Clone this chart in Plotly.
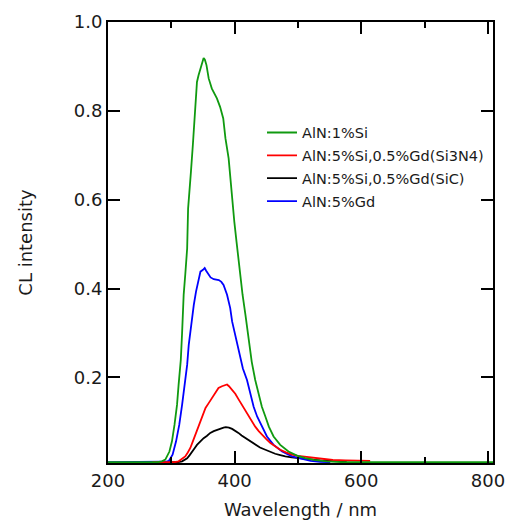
import plotly.graph_objects as go

# AlN:1%Si (green)
wl_si1 = [200, 278, 285, 290.5, 297, 301, 305, 309, 311.5, 315, 317, 319.5, 322, 325, 326.5, 329, 331, 334,
          336.5, 338, 340.5, 343, 346, 349, 351, 353, 355.5, 359, 364, 372, 377, 382, 385.5, 390.5, 393, 396,
          399.5, 403, 405.5, 409, 412.5, 417, 421, 423, 427, 432.5, 438, 443, 448.5, 454, 461.5, 472, 485,
          498.5, 511.5, 525, 545, 570, 808]
cl_si1 = [0.009, 0.009, 0.011, 0.015, 0.033, 0.056, 0.093, 0.138, 0.183, 0.24, 0.30, 0.386, 0.431, 0.49, 0.58,
          0.618, 0.663, 0.723, 0.775, 0.828, 0.865, 0.88, 0.895, 0.91, 0.919, 0.915, 0.903, 0.873, 0.850, 0.828,
          0.809, 0.783, 0.738, 0.693, 0.648, 0.603, 0.550, 0.505, 0.47, 0.431, 0.386, 0.341, 0.296, 0.273, 0.235,
          0.194, 0.165, 0.134, 0.112, 0.089, 0.067, 0.048, 0.033, 0.024, 0.018, 0.014, 0.011, 0.009, 0.009]

# AlN:5%Si,0.5%Gd(Si3N4) (red)
wl_si3n4 = [270, 305, 311.5, 317, 322, 326, 330, 334, 338, 342, 346, 350, 354, 359, 364, 369, 374.5, 380, 385,
            388, 391, 396, 401, 406, 411.5, 417, 422, 427, 432.5, 438, 443, 450, 456.5, 464, 472, 481, 490.5,
            500, 511.5, 525, 540, 555, 575, 598, 614]
cl_si3n4 = [0.009, 0.009, 0.011, 0.016, 0.022, 0.031, 0.041, 0.056, 0.071, 0.086, 0.101, 0.117, 0.131, 0.142,
            0.153, 0.165, 0.176, 0.180, 0.183, 0.184, 0.180, 0.172, 0.163, 0.151, 0.138, 0.125, 0.112, 0.100,
            0.089, 0.079, 0.071, 0.061, 0.052, 0.044, 0.037, 0.031, 0.026, 0.023, 0.021, 0.018, 0.015, 0.014,
            0.013, 0.013, 0.012]

# AlN:5%Si,0.5%Gd(SiC) (black)
wl_sic = [280, 310, 317, 321, 325, 329, 332.5, 336.5, 340.5, 346, 351, 356, 361.5, 367, 372, 377, 382.5, 386,
          391, 396, 401, 406, 411, 417, 424, 432.5, 440, 448.5, 456, 464, 472, 480, 490, 501, 515, 535, 555, 577]
cl_sic = [0.009, 0.009, 0.011, 0.014, 0.018, 0.025, 0.033, 0.040, 0.048, 0.056, 0.063, 0.068, 0.075, 0.079,
          0.082, 0.085, 0.087, 0.088, 0.087, 0.084, 0.080, 0.075, 0.069, 0.063, 0.056, 0.048, 0.042, 0.037,
          0.032, 0.028, 0.025, 0.022, 0.020, 0.018, 0.015, 0.013, 0.012, 0.011]

# AlN:5%Gd (blue)
wl_gd = [200, 285, 291, 296, 302, 307.5, 312.5, 317, 321, 325, 327.5, 330, 332.5, 335.5, 339, 343, 346, 350,
         352.7, 355, 359, 362, 367, 375, 379, 382.5, 388, 393, 396, 401, 404, 408, 413, 419.5, 425, 430, 435.5,
         443, 451, 461.5, 475, 490.5, 509, 520, 535, 551]
cl_gd = [0.009, 0.009, 0.010, 0.012, 0.026, 0.056, 0.093, 0.138, 0.183, 0.228, 0.273, 0.303, 0.333, 0.363,
         0.393, 0.415, 0.438, 0.442, 0.446, 0.440, 0.431, 0.425, 0.421, 0.419, 0.415, 0.408, 0.386, 0.356, 0.326,
         0.296, 0.273, 0.250, 0.220, 0.194, 0.165, 0.134, 0.112, 0.089, 0.067, 0.048, 0.033, 0.022, 0.016,
         0.012, 0.010, 0.009]

x_ticks = [200, 400, 600, 800]
y_ticks = [0.2, 0.4, 0.6, 0.8, 1.0]
y_tick_text = ["0.2", "0.4", "0.6", "0.8", "1.0"]

series = [
    ("AlN:5%Si,0.5%Gd(SiC)", wl_sic, cl_sic, "#000000", 3),
    ("AlN:5%Gd", wl_gd, cl_gd, "#0000ff", 4),
    ("AlN:5%Si,0.5%Gd(Si3N4)", wl_si3n4, cl_si3n4, "#ff0000", 2),
    ("AlN:1%Si", wl_si1, cl_si1, "#109a10", 1),
]

FONT = "DejaVu Sans, sans-serif"
TXT = "#1a1a1a"

fig = go.Figure()
for name, x, y, color, rank in series:
    fig.add_trace(go.Scatter(x=x, y=y, mode="lines", name=name,
                             line=dict(color=color, width=1.8),
                             legendrank=rank, legendgroup=name))

axis_common = dict(showline=True, linecolor="black", linewidth=2, mirror="allticks",
                   ticks="inside", ticklen=12, tickwidth=1.5, tickcolor="black",
                   showgrid=False, zeroline=False, automargin=False,
                   tickfont=dict(family=FONT, size=18, color=TXT))

fig.update_xaxes(range=[200, 808], tickvals=x_ticks,
                 minor=dict(dtick=100, tick0=0, ticks="inside", ticklen=6, tickwidth=1.5, tickcolor="black"),
                 ticklabelstandoff=0,
                 title=dict(text="Wavelength / nm", font=dict(family=FONT, size=18, color=TXT), standoff=15),
                 **axis_common)
fig.update_yaxes(range=[0.0072, 1.0], tickvals=y_ticks, ticktext=y_tick_text,
                 ticklabelstandoff=0,
                 title=dict(text="CL intensity", font=dict(family=FONT, size=18, color=TXT), standoff=36),
                 **axis_common)

fig.update_layout(
    width=506, height=520,
    margin=dict(l=107.6, r=13.3, t=21.7, b=56.7, autoexpand=False),
    paper_bgcolor="white", plot_bgcolor="white",
    showlegend=True,
    legend=dict(x=0.40, y=0.7856, xanchor="left", yanchor="top",
                font=dict(family=FONT, size=14.5, color=TXT),
                bgcolor="rgba(0,0,0,0)", tracegroupgap=1, itemwidth=30),
)

# remove the default page margin so the 506x520 figure fills the window exactly
fig.write_html("out.html", config={"responsive": False, "displayModeBar": False},
               post_script="document.body.style.margin='0';document.body.style.overflow='hidden';")
